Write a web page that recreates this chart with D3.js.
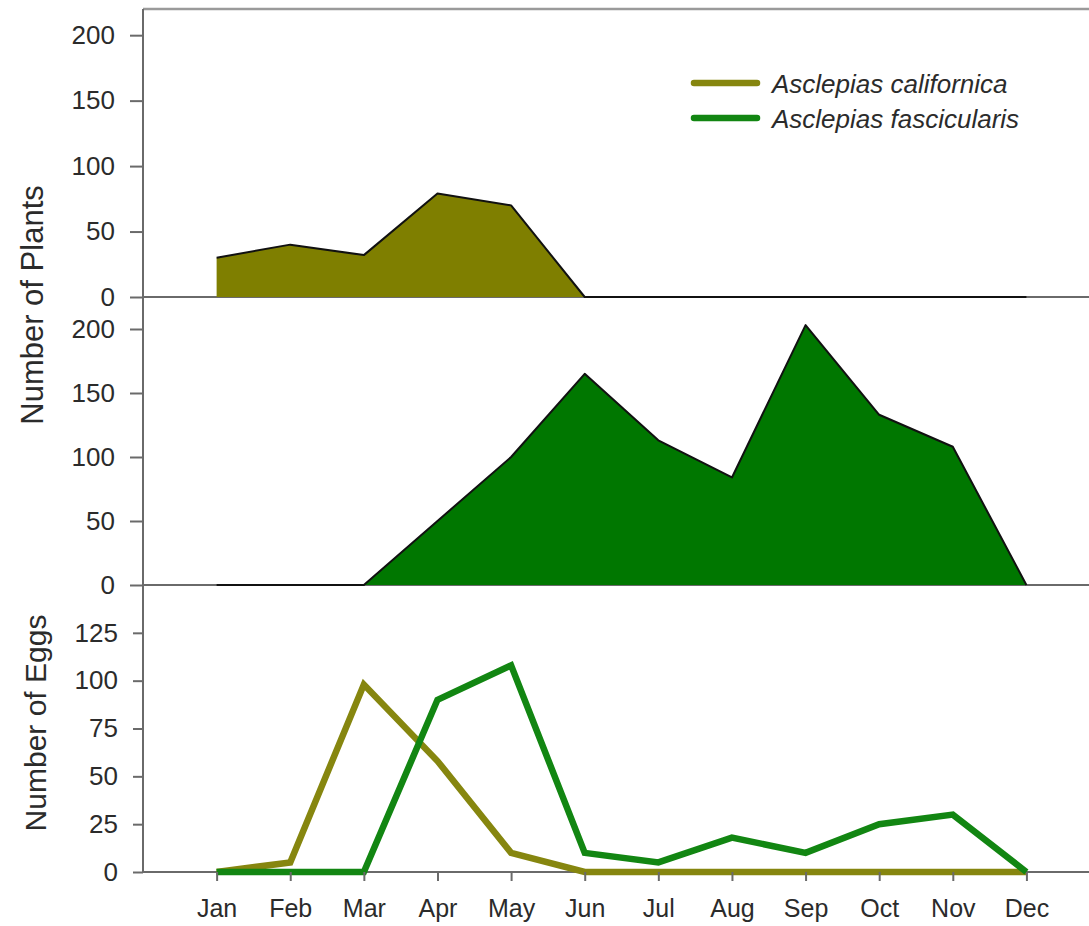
<!DOCTYPE html>
<html>
<head>
<meta charset="utf-8">
<script src="https://cdn.jsdelivr.net/npm/d3@7/dist/d3.min.js"></script>
<style>
  html, body { margin: 0; padding: 0; background: #fff; }
  svg { display: block; }
  text { font-family: "Liberation Sans", Arial, sans-serif; fill: #2b2b2b; }
</style>
</head>
<body>
<svg id="chart" width="1089" height="926"></svg>
<script>
// Monthly survey data
const months = ["Jan","Feb","Mar","Apr","May","Jun","Jul","Aug","Sep","Oct","Nov","Dec"];
const species = ["Asclepias californica", "Asclepias fascicularis"];

// Number of plants per month
const plantsCalifornica   = [30, 40, 32, 79, 70, 0, 0, 0, 0, 0, 0, 0];
const plantsFascicularis  = [0, 0, 0, 50, 100, 165, 113, 84, 203, 133, 108, 0];

// Number of eggs per month
const eggsCalifornica     = [0, 5, 98, 58, 10, 0, 0, 0, 0, 0, 0, 0];
const eggsFascicularis    = [0, 0, 0, 90, 108, 10, 5, 18, 10, 25, 30, 0];

// Axis ticks
const plantTicks = [0, 50, 100, 150, 200];
const eggTicks   = [0, 25, 50, 75, 100, 125];

const colorCalFill = "#7f7f00";
const colorFasFill = "#007700";
const colorCalLine = "#86860f";
const colorFasLine = "#128612";

const svg = d3.select("#chart");
const axisColor = "#6a6a6a";

// Month index (1 = Jan) -> x
const x = d3.scaleLinear().domain([0, 12.85]).range([143, 1089]);

// Three stacked panels sharing the x scale
const yTop = d3.scaleLinear().domain([0, 220]).range([297, 9]);
const yMid = d3.scaleLinear().domain([0, 225]).range([585, 297]);
const yBot = d3.scaleLinear().domain([0, 150]).range([872, 585]);

// Top border of the plotting area
svg.append("line")
  .attr("x1", x(0)).attr("x2", 1089)
  .attr("y1", yTop(220)).attr("y2", yTop(220))
  .attr("stroke", "#9a9a9a").attr("stroke-width", 2.5);

// Filled areas for plant counts
function drawArea(values, y, fill) {
  const pts = values.map((v, i) => [i + 1, v]);
  const area = d3.area().x(d => x(d[0])).y0(y(0)).y1(d => y(d[1]));
  const line = d3.line().x(d => x(d[0])).y(d => y(d[1]));
  svg.append("path").attr("d", area(pts)).attr("fill", fill);
  svg.append("path").attr("d", line(pts))
    .attr("fill", "none").attr("stroke", "#111").attr("stroke-width", 2)
    .attr("stroke-linejoin", "round");
}

// Zero baselines across each panel
[yTop, yMid, yBot].forEach(y => {
  svg.append("line")
    .attr("x1", x(0)).attr("x2", 1089)
    .attr("y1", y(0)).attr("y2", y(0))
    .attr("stroke", axisColor).attr("stroke-width", 2);
});

drawArea(plantsCalifornica, yTop, colorCalFill);
drawArea(plantsFascicularis, yMid, colorFasFill);

// Egg counts as thick lines
function drawLine(values, color) {
  const pts = values.map((v, i) => [i + 1, v]);
  const line = d3.line().x(d => x(d[0])).y(d => yBot(d[1]));
  svg.append("path").attr("d", line(pts))
    .attr("fill", "none").attr("stroke", color).attr("stroke-width", 6.5)
    .attr("stroke-linejoin", "miter").attr("stroke-linecap", "butt");
}
drawLine(eggsCalifornica, colorCalLine);
drawLine(eggsFascicularis, colorFasLine);

// Left axes
function leftAxis(y, ticks, size) {
  const g = svg.append("g").attr("transform", `translate(${x(0)},0)`)
    .call(d3.axisLeft(y).tickValues(ticks).tickSize(size).tickPadding(15).tickFormat(d3.format("d")));
  g.select(".domain").remove();
  g.selectAll(".tick line").attr("stroke", axisColor).attr("stroke-width", 2);
  g.selectAll(".tick text").style("font-size", "26px").attr("fill", "#2b2b2b")
    .style("font-family", "Liberation Sans, Arial, sans-serif");
}
leftAxis(yTop, plantTicks, 13);
leftAxis(yMid, plantTicks, 13);
leftAxis(yBot, eggTicks, 10);

// Continuous vertical axis line
svg.append("line")
  .attr("x1", x(0)).attr("x2", x(0))
  .attr("y1", yTop(220)).attr("y2", yBot(0))
  .attr("stroke", axisColor).attr("stroke-width", 2);

// Bottom month axis
const gx = svg.append("g").attr("transform", `translate(0,${yBot(0)})`)
  .call(d3.axisBottom(x).tickValues(d3.range(1, 13)).tickSize(9).tickPadding(18)
    .tickFormat(d => months[d - 1]));
gx.select(".domain").remove();
gx.selectAll(".tick line").attr("stroke", axisColor).attr("stroke-width", 2);
gx.selectAll(".tick text").style("font-size", "25px").attr("fill", "#2b2b2b")
  .style("font-family", "Liberation Sans, Arial, sans-serif");

// Axis titles
svg.append("text")
  .attr("transform", "translate(43,305) rotate(-90)")
  .attr("text-anchor", "middle")
  .style("font-size", "31px")
  .text("Number of Plants");
svg.append("text")
  .attr("transform", "translate(46,723) rotate(-90)")
  .attr("text-anchor", "middle")
  .style("font-size", "30px")
  .text("Number of Eggs");

// Legend
const legend = svg.append("g");
const legendColors = [colorCalLine, colorFasLine];
species.forEach((name, i) => {
  const cy = 83 + i * 35;
  legend.append("line")
    .attr("x1", 694).attr("x2", 757).attr("y1", cy).attr("y2", cy)
    .attr("stroke", legendColors[i]).attr("stroke-width", 6.5)
    .attr("stroke-linecap", "round");
  legend.append("text")
    .attr("x", 772).attr("y", cy + 10)
    .style("font-size", "26px").style("font-style", "italic")
    .text(name);
});
</script>
</body>
</html>
